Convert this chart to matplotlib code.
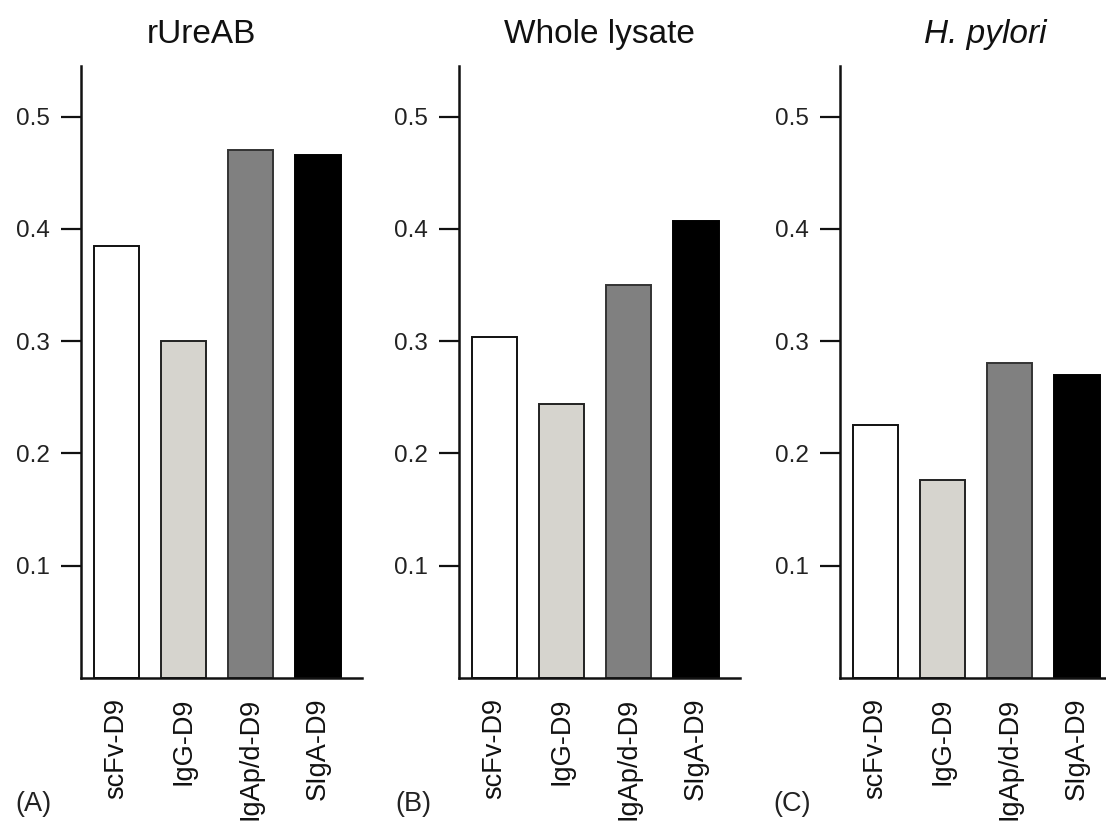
import matplotlib
matplotlib.use("Agg")
import matplotlib.pyplot as plt

plt.rcParams['font.family'] = ['Liberation Sans', 'DejaVu Sans']

categories = ["scFv-D9", "IgG-D9", "IgAp/d-D9", "SIgA-D9"]
rureab = [0.385, 0.300, 0.470, 0.466]
whole_lysate = [0.304, 0.244, 0.350, 0.407]
h_pylori = [0.225, 0.176, 0.281, 0.270]
yticks = [0.1, 0.2, 0.3, 0.4, 0.5]
ytick_labels = ["0.1", "0.2", "0.3", "0.4", "0.5"]
titles = ["rUreAB", "Whole lysate", "H. pylori"]
panel_letters = ["(A)", "(B)", "(C)"]
bar_colors = ["#ffffff", "#d6d4ce", "#808080", "#000000"]
edge_colors = ["#111111", "#222222", "#333333", "#000000"]

W, H = 1106, 826
fig = plt.figure(figsize=(W / 100, H / 100), dpi=100)
fig.patch.set_facecolor("white")

lefts = [81, 459, 840]
title_x = [0.43, 0.50, 0.516]
letter_x = [15, 395, 773]
series = [rureab, whole_lysate, h_pylori]
ax_w, ax_top, ax_bot = 281, 66, 678

for i in range(3):
    ax = fig.add_axes([lefts[i] / W, (H - ax_bot) / H, ax_w / W, (ax_bot - ax_top) / H])
    xs = list(range(len(categories)))
    ax.bar(xs, series[i], width=0.68, color=bar_colors, edgecolor=edge_colors,
           linewidth=1.4, zorder=2)
    ax.set_xlim(-0.53, 3.66)
    ax.set_ylim(0, 0.5452)
    ax.spines['top'].set_visible(False)
    ax.spines['right'].set_visible(False)
    for s in ('left', 'bottom'):
        ax.spines[s].set_linewidth(1.8)
        ax.spines[s].set_color("#111111")
        ax.spines[s].set_zorder(3)
    ax.set_yticks(yticks)
    ax.set_yticklabels(ytick_labels, fontsize=17.5, color="#222222")
    ax.tick_params(axis='y', direction='out', length=14.4, width=1.6, pad=8, color="#111111")
    ax.set_xticks(xs)
    ax.set_xticklabels(categories, rotation=90, fontsize=19.5, color="#111111")
    ax.tick_params(axis='x', length=0, pad=14.4)
    style = 'italic' if i == 2 else 'normal'
    ax.set_title(titles[i], fontsize=24, fontstyle=style, x=title_x[i], pad=16.5, color="#111111")
    fig.text(letter_x[i] / W, (H - 811) / H, panel_letters[i], fontsize=19.5,
             ha='left', va='baseline', color="#222222")

fig.savefig("out.png", dpi=100)
